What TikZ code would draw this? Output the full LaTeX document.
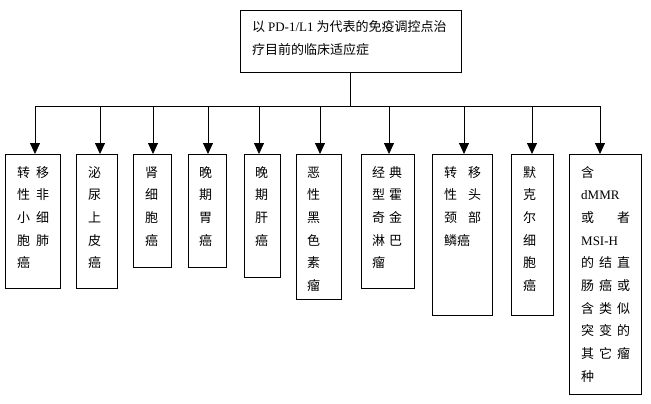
\documentclass[tikz,border=0pt]{standalone}
\usepackage{fontspec}
\setmainfont{Noto Sans CJK SC}
\newfontfamily\lat{Liberation Serif}
\usetikzlibrary{arrows.meta}
\newcommand\Lt[1]{{\lat #1}}
\begin{document}
\begin{tikzpicture}[x=1pt,y=-1pt,
  box/.style={draw, line width=0.8pt, inner sep=0pt, outer sep=0pt, anchor=north west},
  txt/.style={inner sep=0pt, anchor=base west, font=\fontsize{13pt}{22.7pt}\selectfont},
  arr/.style={line width=0.8pt, -{Triangle[width=10pt,length=11pt]}},
  ln/.style={line width=0.8pt}]
\useasboundingbox (0,0) rectangle (651,404);
% top box
\node[box, minimum width=221pt, minimum height=62pt] (top) at (240,10) {};
\node[txt] (ttop) at (252,32) {\parbox[t]{205pt}{\fontsize{13pt}{22.7pt}\selectfont 以 \Lt{PD-1/L1} 为代表的免疫调控点治\\疗目前的临床适应症}};
% bottom boxes
\node[box, minimum width=55pt, minimum height=134pt] (b1) at (5,154) {};
\node[box, minimum width=41pt, minimum height=134pt] (b2) at (76,154) {};
\node[box, minimum width=38pt, minimum height=113pt] (b3) at (133,154) {};
\node[box, minimum width=38pt, minimum height=113pt] (b4) at (188,154) {};
\node[box, minimum width=36pt, minimum height=123pt] (b5) at (244,154) {};
\node[box, minimum width=45pt, minimum height=145pt] (b6) at (296,154) {};
\node[box, minimum width=53pt, minimum height=134pt] (b7) at (361,154) {};
\node[box, minimum width=60pt, minimum height=161pt] (b8) at (432,154) {};
\node[box, minimum width=42pt, minimum height=161pt] (b9) at (511,154) {};
\node[box, minimum width=72pt, minimum height=240pt] (b10) at (569,154) {};
% texts
\node[txt] (t1) at (17,177) {\parbox[t]{32pt}{\fontsize{13pt}{22.7pt}\selectfont 转\hfill 移\\性\hfill 非\\小\hfill 细\\胞\hfill 肺\\癌}};
\node[txt] (t2) at (88,177) {\parbox[t]{13pt}{\fontsize{13pt}{22.7pt}\selectfont 泌\\尿\\上\\皮\\癌}};
\node[txt] (t3) at (145,177) {\parbox[t]{13pt}{\fontsize{13pt}{22.7pt}\selectfont 肾\\细\\胞\\癌}};
\node[txt] (t4) at (199,177) {\parbox[t]{13pt}{\fontsize{13pt}{22.7pt}\selectfont 晚\\期\\胃\\癌}};
\node[txt] (t5) at (255,177) {\parbox[t]{13pt}{\fontsize{13pt}{22.7pt}\selectfont 晚\\期\\肝\\癌}};
\node[txt] (t6) at (307,177) {\parbox[t]{13pt}{\fontsize{13pt}{22.7pt}\selectfont 恶\\性\\黑\\色\\素\\瘤}};
\node[txt] (t7) at (372,177) {\parbox[t]{30pt}{\fontsize{13pt}{22.7pt}\selectfont 经\hfill 典\\型\hfill 霍\\奇\hfill 金\\淋\hfill 巴\\瘤}};
\node[txt] (t8) at (444,177) {\parbox[t]{37pt}{\fontsize{13pt}{22.7pt}\selectfont 转\hfill 移\\性\hfill 头\\颈\hfill 部\\鳞癌}};
\node[txt] (t9) at (523,177) {\parbox[t]{13pt}{\fontsize{13pt}{22.7pt}\selectfont 默\\克\\尔\\细\\胞\\癌}};
\node[txt] (t10) at (581,177) {\parbox[t]{49pt}{\fontsize{13pt}{22.7pt}\selectfont 含\\\Lt{dMMR}\\或\hfill 者\\\Lt{MSI-H}\\的\hfill 结\hfill 直\\肠\hfill 癌\hfill 或\\含\hfill 类\hfill 似\\突\hfill 变\hfill 的\\其\hfill 它\hfill 瘤\\种}};
% connectors
\coordinate (j) at (350.5,106);
\coordinate (a1) at (35,106);
\coordinate (a2) at (100,106);
\coordinate (a3) at (153,106);
\coordinate (a4) at (208,106);
\coordinate (a5) at (259,106);
\coordinate (a6) at (320,106);
\coordinate (a7) at (389,106);
\coordinate (a8) at (464,106);
\coordinate (a9) at (532,106);
\coordinate (a10) at (600,106);
\draw[ln] (top.south) -- (j);
\draw[ln] (a1) -- (a10);
\foreach \i in {1,...,10} {
  \draw[arr] (a\i) -- (a\i |- b\i.north);
}
\end{tikzpicture}
\end{document}
